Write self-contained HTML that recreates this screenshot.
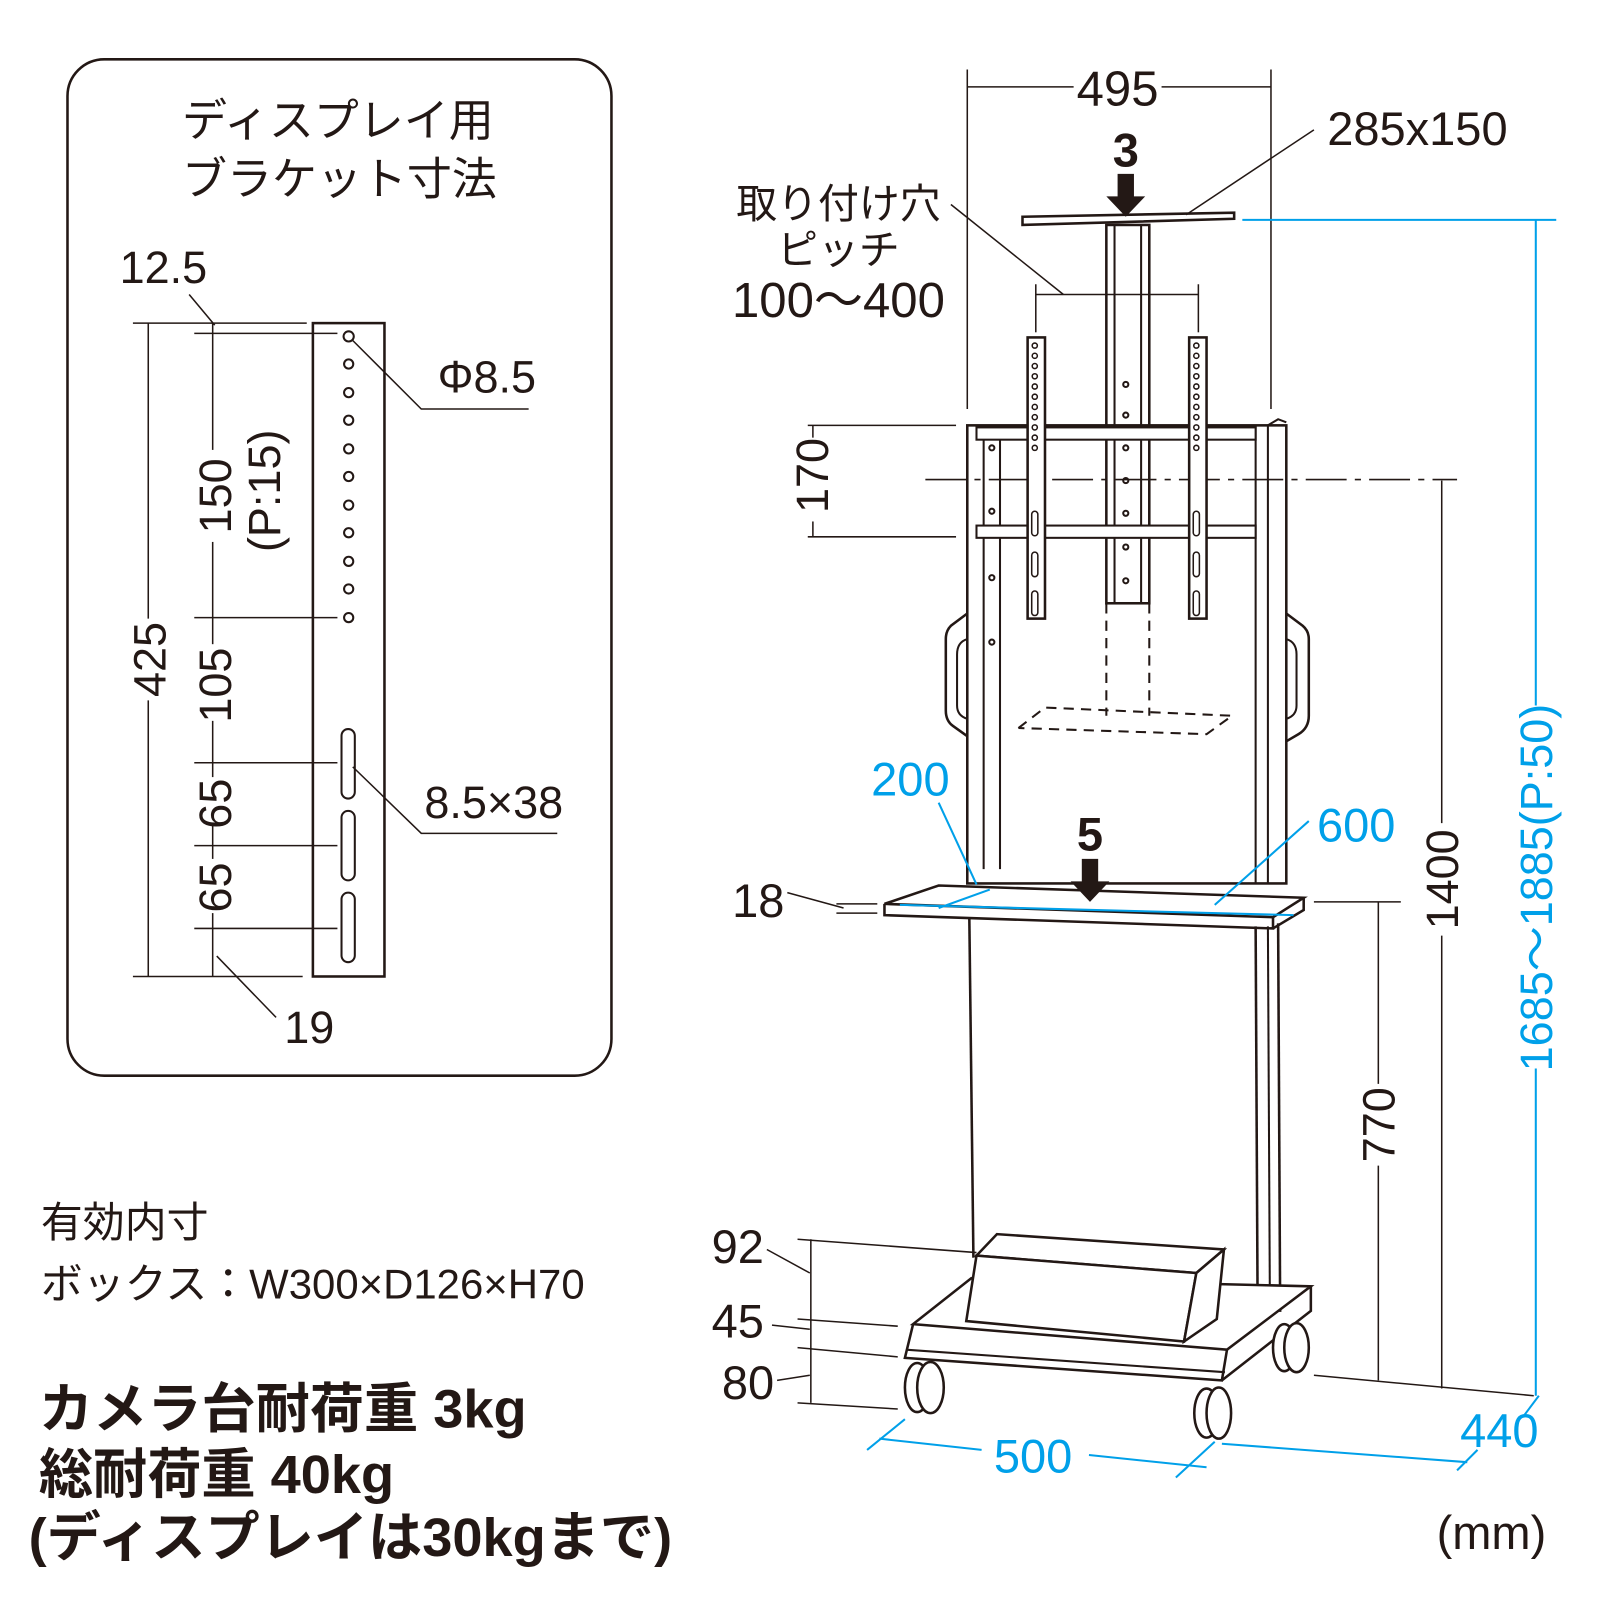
<!DOCTYPE html>
<html><head><meta charset="utf-8"><style>
html,body{margin:0;padding:0;background:#fff}
svg{display:block}
.t{font-family:"Liberation Sans Narrow","Liberation Sans","Noto Sans CJK JP",sans-serif;fill:#231815}
.j{font-family:"Liberation Sans","Noto Sans CJK JP",sans-serif;fill:#231815}
.b{fill:#00a0e9}
</style></head><body>
<svg width="1600" height="1600" viewBox="0 0 1600 1600" xmlns="http://www.w3.org/2000/svg">
<g transform="scale(1.0225)">
<g fill="none" stroke="#231815" stroke-width="2">
<rect x="66" y="58" width="532" height="994" rx="36" stroke-width="2.5"/>
<rect x="306" y="316" width="70" height="639" stroke-width="2.5"/>
<g stroke-width="2">
<circle cx="341" cy="329" r="5"/><circle cx="341" cy="356" r="4.5"/><circle cx="341" cy="384" r="4.5"/><circle cx="341" cy="411" r="4.5"/><circle cx="341" cy="439" r="4.5"/><circle cx="341" cy="466" r="4.5"/><circle cx="341" cy="494" r="4.5"/><circle cx="341" cy="521" r="4.5"/><circle cx="341" cy="549" r="4.5"/><circle cx="341" cy="576" r="4.5"/><circle cx="341" cy="604" r="4.5"/>
<rect x="334" y="713" width="13" height="68" rx="6.5"/><rect x="334" y="793" width="13" height="68" rx="6.5"/><rect x="334" y="873" width="13" height="68" rx="6.5"/>
</g>
<g stroke-width="1.5">
<line x1="130" y1="316" x2="300" y2="316"/><line x1="190" y1="326" x2="330" y2="326"/>
<line x1="190" y1="604" x2="330" y2="604"/><line x1="190" y1="746" x2="330" y2="746"/>
<line x1="190" y1="827" x2="330" y2="827"/><line x1="190" y1="908" x2="330" y2="908"/>
<line x1="130" y1="955" x2="296" y2="955"/>
<line x1="145" y1="316" x2="145" y2="605"/><line x1="145" y1="685" x2="145" y2="955"/>
<line x1="208" y1="316" x2="208" y2="440"/><line x1="208" y1="530" x2="208" y2="630"/><line x1="208" y1="705" x2="208" y2="760"/>
<line x1="208" y1="805" x2="208" y2="840"/><line x1="208" y1="893" x2="208" y2="955"/>
<line x1="185" y1="288" x2="210" y2="318"/><line x1="212" y1="935" x2="270" y2="995"/>
<polyline points="345,333 412,400 517,400"/><polyline points="345,750 412,815 545,815"/>
</g>
<g stroke-width="1.5">
<line x1="946" y1="68" x2="946" y2="400"/><line x1="1243" y1="68" x2="1243" y2="400"/>
<line x1="946" y1="85" x2="1050" y2="85"/><line x1="1136" y1="85" x2="1243" y2="85"/>
<line x1="1285" y1="127" x2="1160" y2="210"/>
<line x1="930" y1="200" x2="1040" y2="288"/>
<line x1="1013" y1="288" x2="1172" y2="288"/><line x1="1013" y1="278" x2="1013" y2="325"/><line x1="1172" y1="278" x2="1172" y2="325"/>
<line x1="790" y1="416" x2="935" y2="416"/><line x1="790" y1="525" x2="935" y2="525"/>
<line x1="795" y1="416" x2="795" y2="428"/><line x1="795" y1="510" x2="795" y2="525"/>
<line x1="905" y1="469" x2="1425" y2="469" stroke-dasharray="40,8,6,8"/>
<line x1="1410" y1="470" x2="1410" y2="805"/><line x1="1410" y1="915" x2="1410" y2="1358"/>
<line x1="1285" y1="882" x2="1370" y2="882"/>
<line x1="1348" y1="882" x2="1348" y2="1060"/><line x1="1348" y1="1140" x2="1348" y2="1350"/>
<line x1="770" y1="873" x2="825" y2="888"/><line x1="818" y1="893" x2="858" y2="893"/><line x1="818" y1="884" x2="858" y2="884"/>
<line x1="780" y1="1212" x2="955" y2="1225"/><line x1="780" y1="1290" x2="878" y2="1297"/>
<line x1="780" y1="1318" x2="878" y2="1327"/><line x1="780" y1="1372" x2="878" y2="1378"/>
<line x1="793" y1="1212" x2="793" y2="1372"/>
<line x1="750" y1="1222" x2="792" y2="1245"/><line x1="755" y1="1296" x2="792" y2="1300"/><line x1="760" y1="1350" x2="792" y2="1345"/>
<line x1="1285" y1="1345" x2="1500" y2="1365"/>
</g>
<polygon points="1000,212 1207,208 1207,214 1000,220" stroke-width="2.5"/>
<rect x="1082" y="220" width="42" height="370" stroke-width="2.5"/>
<line x1="1090" y1="220" x2="1090" y2="590"/><line x1="1116" y1="220" x2="1116" y2="590"/>
<g stroke-dasharray="10,7" stroke-width="2">
<line x1="1082" y1="590" x2="1082" y2="700"/><line x1="1124" y1="590" x2="1124" y2="700"/>
<polyline points="996,712 1022,692 1205,700 1180,718 996,712"/>
</g>
<rect x="946" y="416" width="312" height="448" stroke-width="2.5"/>
<line x1="962" y1="430" x2="962" y2="850"/><line x1="978" y1="430" x2="978" y2="850"/>
<line x1="1228" y1="416" x2="1228" y2="864"/><line x1="1240" y1="416" x2="1240" y2="864"/>
<rect x="955" y="418" width="273" height="12" fill="#fff" stroke-width="2"/>
<rect x="955" y="514" width="273" height="12" fill="#fff" stroke-width="2"/>
<g stroke-width="2">
<circle cx="970" cy="438" r="2.5"/><circle cx="970" cy="500" r="2.5"/><circle cx="970" cy="565" r="2.5"/><circle cx="970" cy="628" r="2.5"/>
<circle cx="1101" cy="376" r="2.5"/><circle cx="1101" cy="406" r="2.5"/><circle cx="1101" cy="438" r="2.5"/><circle cx="1101" cy="470" r="2.5"/><circle cx="1101" cy="502" r="2.5"/><circle cx="1101" cy="535" r="2.5"/><circle cx="1101" cy="568" r="2.5"/>
</g>
<rect x="1005" y="330" width="17" height="275" fill="#fff" stroke-width="2.5"/>
<rect x="1163" y="330" width="17" height="275" fill="#fff" stroke-width="2.5"/>
<g stroke-width="1.5">
<circle cx="1012" cy="338" r="2.5"/><circle cx="1012" cy="348" r="2.5"/><circle cx="1012" cy="358" r="2.5"/><circle cx="1012" cy="368" r="2.5"/><circle cx="1012" cy="378" r="2.5"/><circle cx="1012" cy="388" r="2.5"/><circle cx="1012" cy="398" r="2.5"/><circle cx="1012" cy="408" r="2.5"/><circle cx="1012" cy="418" r="2.5"/><circle cx="1012" cy="428" r="2.5"/><circle cx="1012" cy="438" r="2.5"/>
<circle cx="1170" cy="338" r="2.5"/><circle cx="1170" cy="348" r="2.5"/><circle cx="1170" cy="358" r="2.5"/><circle cx="1170" cy="368" r="2.5"/><circle cx="1170" cy="378" r="2.5"/><circle cx="1170" cy="388" r="2.5"/><circle cx="1170" cy="398" r="2.5"/><circle cx="1170" cy="408" r="2.5"/><circle cx="1170" cy="418" r="2.5"/><circle cx="1170" cy="428" r="2.5"/><circle cx="1170" cy="438" r="2.5"/>
<rect x="1009" y="500" width="6" height="24" rx="3"/><rect x="1009" y="540" width="6" height="24" rx="3"/><rect x="1009" y="578" width="6" height="24" rx="3"/>
<rect x="1167" y="500" width="6" height="24" rx="3"/><rect x="1167" y="540" width="6" height="24" rx="3"/><rect x="1167" y="578" width="6" height="24" rx="3"/>
</g>
<path d="M946,600 L930,612 Q925,617 925,625 L925,695 Q925,705 932,710 L946,720" stroke-width="2.5"/>
<path d="M946,625 Q936,628 936,640 L936,690 Q936,700 946,703" stroke-width="2"/>
<path d="M1258,600 L1274,612 Q1280,617 1280,625 L1280,700 Q1280,712 1270,718 L1258,725" stroke-width="2.5"/>
<path d="M1258,625 Q1268,628 1268,640 L1268,690 Q1268,700 1258,703" stroke-width="2"/>
<path d="M1240,416 L1250,410 L1258,413" stroke-width="2"/>
<polygon points="865,884 918,866 1275,878 1245,897" fill="#fff" stroke-width="2.5"/>
<polyline points="865,884 865,895 1245,908 1245,897" stroke-width="2.5"/>
<polyline points="1245,908 1275,890 1275,878" stroke-width="2.5"/>
<line x1="948" y1="898" x2="952" y2="1230" stroke-width="2.5"/>
<line x1="1228" y1="906" x2="1230" y2="1290" stroke-width="2.5"/>
<line x1="1240" y1="906" x2="1242" y2="1285" stroke-width="2"/>
<line x1="1250" y1="903" x2="1252" y2="1283" stroke-width="2.5"/>
<polygon points="893,1295 950,1250 1282,1258 1200,1320" fill="#fff" stroke-width="2.5"/>
<polyline points="893,1295 885,1328 1195,1350 1200,1320" stroke-width="2.5"/>
<polyline points="1195,1350 1282,1282 1282,1258" stroke-width="2.5"/>
<line x1="886" y1="1320" x2="1198" y2="1342" stroke-width="2"/>
<polygon points="955,1228 975,1207 1197,1222 1170,1245" fill="#fff" stroke-width="2.5"/>
<polygon points="955,1228 1170,1245 1158,1312 945,1292" fill="#fff" stroke-width="2.5"/>
<polygon points="1170,1245 1197,1222 1190,1290 1158,1312" fill="#fff" stroke-width="2.5"/>
<g stroke-width="2.5" fill="#fff">
<ellipse cx="897" cy="1357" rx="12" ry="24"/><ellipse cx="910" cy="1357" rx="13" ry="25"/>
<ellipse cx="1180" cy="1382" rx="12" ry="24"/><ellipse cx="1192" cy="1382" rx="12" ry="25"/>
<ellipse cx="1256" cy="1318" rx="11" ry="23"/><ellipse cx="1268" cy="1318" rx="12" ry="24"/>
</g>
</g>
<g fill="#231815">
<polygon points="1093,170 1109,170 1109,192 1120,192 1101,212 1082,192 1093,192"/>
<polygon points="1058,840 1074,840 1074,862 1085,862 1066,882 1047,862 1058,862"/>
</g>
<g stroke="#00a0e9" stroke-width="2" fill="none">
<line x1="1215" y1="215" x2="1522" y2="215"/>
<line x1="1502" y1="215" x2="1502" y2="690"/><line x1="1502" y1="1045" x2="1502" y2="1365"/>
<line x1="918" y1="785" x2="955" y2="865"/>
<line x1="880" y1="885" x2="1265" y2="895"/>
<line x1="918" y1="888" x2="968" y2="870"/>
<line x1="1280" y1="803" x2="1188" y2="885"/>
<line x1="848" y1="1418" x2="885" y2="1388"/>
<line x1="860" y1="1407" x2="960" y2="1418"/><line x1="1065" y1="1423" x2="1180" y2="1435"/>
<line x1="1150" y1="1445" x2="1188" y2="1410"/>
<line x1="1195" y1="1412" x2="1435" y2="1430"/>
<line x1="1425" y1="1438" x2="1445" y2="1418"/>
<line x1="1490" y1="1385" x2="1505" y2="1365"/>
</g>
<text class="j" x="178" y="133" font-size="44">ディスプレイ用</text>
<text class="j" x="178" y="190" font-size="44">ブラケット寸法</text>
<text class="t" x="117" y="277" font-size="44">12.5</text>
<text class="t" x="428" y="384" font-size="44">Φ8.5</text>
<text class="t" x="415" y="800" font-size="44">8.5×38</text>
<text class="t" x="278" y="1020" font-size="44">19</text>
<g class="t" font-size="44">
<text transform="translate(162,645) rotate(-90)" text-anchor="middle">425</text>
<text transform="translate(226,485) rotate(-90)" text-anchor="middle">150</text>
<text transform="translate(274,480) rotate(-90)" text-anchor="middle">(P:15)</text>
<text transform="translate(226,670) rotate(-90)" text-anchor="middle">105</text>
<text transform="translate(226,786) rotate(-90)" text-anchor="middle">65</text>
<text transform="translate(226,868) rotate(-90)" text-anchor="middle">65</text>
<text transform="translate(810,465) rotate(-90)" text-anchor="middle">170</text>
<text transform="translate(1426,860) rotate(-90)" text-anchor="middle">1400</text>
<text transform="translate(1364,1100) rotate(-90)" text-anchor="middle">770</text>
</g>
<text class="t b" transform="translate(1518,868) rotate(-90)" text-anchor="middle" font-size="44">1685～1885(P:50)</text>
<text class="j" x="40" y="1210" font-size="41">有効内寸</text>
<text class="j" x="40" y="1270" font-size="41">ボックス：W300×D126×H70</text>
<text class="j" x="38" y="1396" font-size="53" font-weight="bold">カメラ台耐荷重 3kg</text>
<text class="j" x="38" y="1460" font-size="53" font-weight="bold">総耐荷重 40kg</text>
<text class="j" x="28" y="1522" font-size="53" font-weight="bold">(ディスプレイは30kgまで)</text>
<text class="t" x="1093" y="103" font-size="48" text-anchor="middle">495</text>
<text class="t" x="1298" y="142" font-size="46">285x150</text>
<text class="t" x="1101" y="163" font-size="46" font-weight="bold" text-anchor="middle">3</text>
<text class="t" x="1066" y="832" font-size="46" font-weight="bold" text-anchor="middle">5</text>
<text class="j" x="820" y="213" font-size="40" text-anchor="middle">取り付け穴</text>
<text class="j" x="820" y="258" font-size="40" text-anchor="middle">ピッチ</text>
<text class="t" x="820" y="310" font-size="48" text-anchor="middle">100～400</text>
<text class="t b" x="852" y="778" font-size="46">200</text>
<text class="t b" x="1288" y="823" font-size="46">600</text>
<text class="t" x="716" y="897" font-size="46">18</text>
<text class="t" x="696" y="1235" font-size="46">92</text>
<text class="t" x="696" y="1308" font-size="46">45</text>
<text class="t" x="706" y="1368" font-size="46">80</text>
<text class="t b" x="972" y="1440" font-size="46">500</text>
<text class="t b" x="1428" y="1415" font-size="46">440</text>
<text class="t" x="1405" y="1515" font-size="46">(mm)</text>
</g>
</svg>
</body></html>
